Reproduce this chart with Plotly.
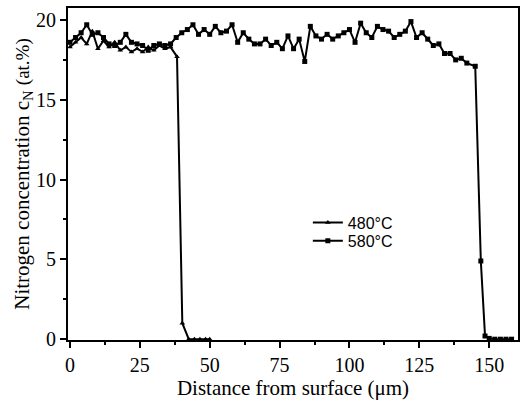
import plotly.graph_objects as go

x480 = [0, 2, 4, 6, 8, 10, 12, 14, 16, 18, 20, 22, 24, 26, 28, 30, 32, 34, 36, 38.3, 40.2, 42.5, 44.5, 46.5, 48.5, 50]
y480 = [18.3, 18.6, 18.9, 18.5, 19.3, 18.2, 18.7, 18.3, 18.6, 18.1, 18.3, 18.0, 18.2, 18.0, 18.3, 18.1, 18.4, 18.2, 18.3, 17.7, 1.0, 0, 0, 0, 0, 0]

x580 = [0, 2, 4, 6, 8, 10, 12, 14, 16, 18, 20, 22, 24, 26, 28, 30, 32, 34, 36, 38,
        40, 42, 44, 46, 48, 50, 52, 54, 56, 58, 60, 62, 64, 66, 68, 70, 72, 74, 76, 78,
        80, 82, 84, 86, 88, 90, 92, 94, 96, 98, 100, 102, 104, 106, 108, 110, 112, 114, 116, 118,
        120, 122, 124, 126, 128, 130, 132, 134, 136, 138, 140, 142, 145, 147, 148.5, 150, 152, 154, 156, 158]
y580 = [18.6, 18.9, 19.2, 19.7, 19.1, 19.2, 18.9, 18.5, 18.4, 18.6, 19.1, 18.6, 18.5, 18.4, 18.1, 18.4, 18.5, 18.4, 18.5, 18.9,
        19.2, 19.4, 19.7, 19.1, 19.4, 19.1, 19.6, 19.2, 19.3, 19.7, 18.6, 19.2, 18.8, 18.5, 18.5, 18.8, 18.4, 18.6, 18.2, 19.0,
        18.2, 18.8, 17.4, 19.6, 19.0, 18.8, 19.1, 18.8, 19.0, 19.2, 19.4, 18.6, 19.8, 19.2, 18.9, 19.6, 19.4, 19.3, 18.9, 19.1,
        19.3, 19.9, 18.9, 19.2, 18.8, 18.4, 18.5, 17.9, 17.9, 17.5, 17.6, 17.3, 17.1, 4.9, 0.2, 0.05, 0, 0, 0, 0]

x_ticks = [0, 25, 50, 75, 100, 125, 150]
y_ticks = [0, 5, 10, 15, 20]

fig = go.Figure()
fig.add_trace(go.Scatter(x=x480, y=y480, mode="lines+markers", name="480°C", legend="legend",
                         line=dict(color="black", width=2),
                         marker=dict(symbol="triangle-up", size=5, color="black")))
fig.add_trace(go.Scatter(x=x580, y=y580, mode="lines+markers", name="580°C", legend="legend2",
                         line=dict(color="black", width=2),
                         marker=dict(symbol="square", size=5, color="black")))

serif = "Liberation Serif"
leg_font = dict(family="Liberation Sans", size=16, color="black")
fig.update_layout(
    width=524, height=407,
    margin=dict(l=68, r=6, t=8, b=67, autoexpand=False),
    paper_bgcolor="white", plot_bgcolor="white",
    showlegend=True,
    legend=dict(x=0.533, y=0.405, xanchor="left", yanchor="top",
                bgcolor="rgba(0,0,0,0)", borderwidth=0, font=leg_font, itemwidth=30),
    legend2=dict(x=0.533, y=0.35, xanchor="left", yanchor="top",
                 bgcolor="rgba(0,0,0,0)", borderwidth=0, font=leg_font, itemwidth=30),
    xaxis=dict(range=[-0.7, 160.3], tickvals=x_ticks, ticktext=[str(v) for v in x_ticks],
               showgrid=False, zeroline=False, showline=True, linecolor="black", linewidth=2,
               mirror=True, ticks="outside", ticklen=6, tickwidth=2, tickcolor="black",
               automargin=False,
               minor=dict(dtick=12.5, ticks="outside", ticklen=3, tickwidth=2, tickcolor="black"),
               tickfont=dict(family=serif, size=20, color="black"),
               title=dict(text="Distance from surface (μm)", font=dict(family=serif, size=21, color="black"),
                          standoff=2)),
    yaxis=dict(range=[-0.05, 20.75], tickvals=y_ticks, ticktext=[str(v) for v in y_ticks],
               showgrid=False, zeroline=False, showline=True, linecolor="black", linewidth=2,
               mirror=True, ticks="outside", ticklen=6, tickwidth=2, tickcolor="black",
               automargin=False,
               minor=dict(dtick=2.5, ticks="outside", ticklen=3, tickwidth=2, tickcolor="black"),
               tickfont=dict(family=serif, size=20, color="black"),
               title=dict(text="Nitrogen concentration c<sub>N</sub> <span style='font-size:19px'>(at.%)</span>",
                          font=dict(family=serif, size=21, color="black"), standoff=1)),
)

fig.write_html("out.html", config={"displayModeBar": False},
               post_script="document.body.style.margin='0';")
